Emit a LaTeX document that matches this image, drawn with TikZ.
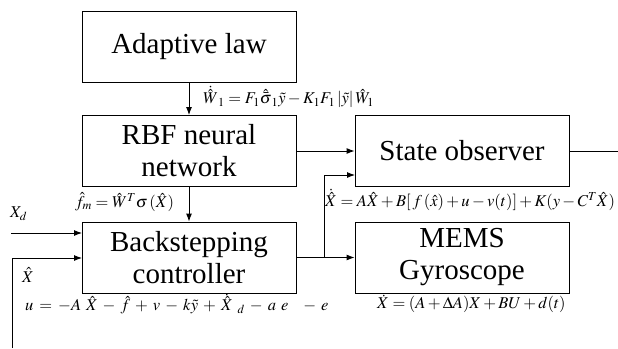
\documentclass[tikz,border=0pt]{standalone}
\usepackage{fontspec}
\setmainfont{Liberation Serif}
\usepackage{mathptmx}
\usetikzlibrary{arrows.meta}
\begin{document}
\begin{tikzpicture}[x=1pt,y=-1pt,
  blk/.style={draw,line width=0.9pt,minimum width=214pt,minimum height=71pt,inner sep=0pt,align=center,font=\fontspec{Liberation Serif}\fontsize{29}{32}\selectfont},
  conn/.style={line width=0.9pt},
  arr/.style={conn,-{Latex[length=8pt,width=6pt]}},
  eq/.style={inner sep=0pt,anchor=west,font=\fontsize{16.5}{19}\selectfont}]
\useasboundingbox (0,0) rectangle (618,348);
\node[blk] (adapt) at (189,46.5) {Adaptive law};
\node[blk] (rbf) at (189,151) {RBF neural\\network};
\node[blk] (bs) at (189,257.5) {Backstepping\\controller};
\node[blk] (so) at (462,151) {State observer};
\node[blk] (mems) at (462,257.5) {MEMS\\Gyroscope};
\draw[arr] (adapt) -- (rbf);
\draw[arr] (rbf) -- (bs);
\draw[arr] (rbf.east) -- (so.west);
\coordinate (out) at (618,151);
\draw[conn] (so.east) -- (out);
\draw[arr] (bs.east) -- (mems.west);
\coordinate (br) at (324,257.5);
\coordinate (so2) at (355,175);
\draw[arr] (br) |- (so2);
\coordinate (xdin) at (11,233);
\coordinate (xdend) at (82,233);
\draw[arr] (xdin) -- (xdend);
\coordinate (xhin) at (12,348);
\coordinate (xhend) at (82,258);
\draw[arr] (xhin) |- (xhend);
\node[eq] (weq) at (203,97) {$\dot{\hat{W}}_1 = F_1\hat{\bar{\sigma}}_1\tilde{y} - K_1F_1\left|\tilde{y}\right|\hat{W}_1$};
\node[eq] (feq) at (75,202) {$\hat{f}_m = \hat{W}^T\sigma\,(\hat{X})$};
\node[eq] (xeq) at (325,200) {$\dot{\hat{X}} = A\hat{X} + B[\,f\,(\hat{x}) + u - v(t)] + K(y - C^T\hat{X})$};
\node[eq] (ueq) at (25,304) {\medmuskip=5.5mu\thickmuskip=6.5mu$u = -A\ \hat{X} - \hat{f} + v - k\tilde{y} + \dot{\hat{X}}_{\ d} - a\ e\ \ - e$};
\node[eq] (meq) at (377,304) {$\dot{X} = (A + \Delta A)X + BU + d(t)$};
\node[eq] (xdl) at (10,214) {$X_d$};
\node[eq] (xhl) at (22,275) {$\hat{X}$};
\end{tikzpicture}
\end{document}
